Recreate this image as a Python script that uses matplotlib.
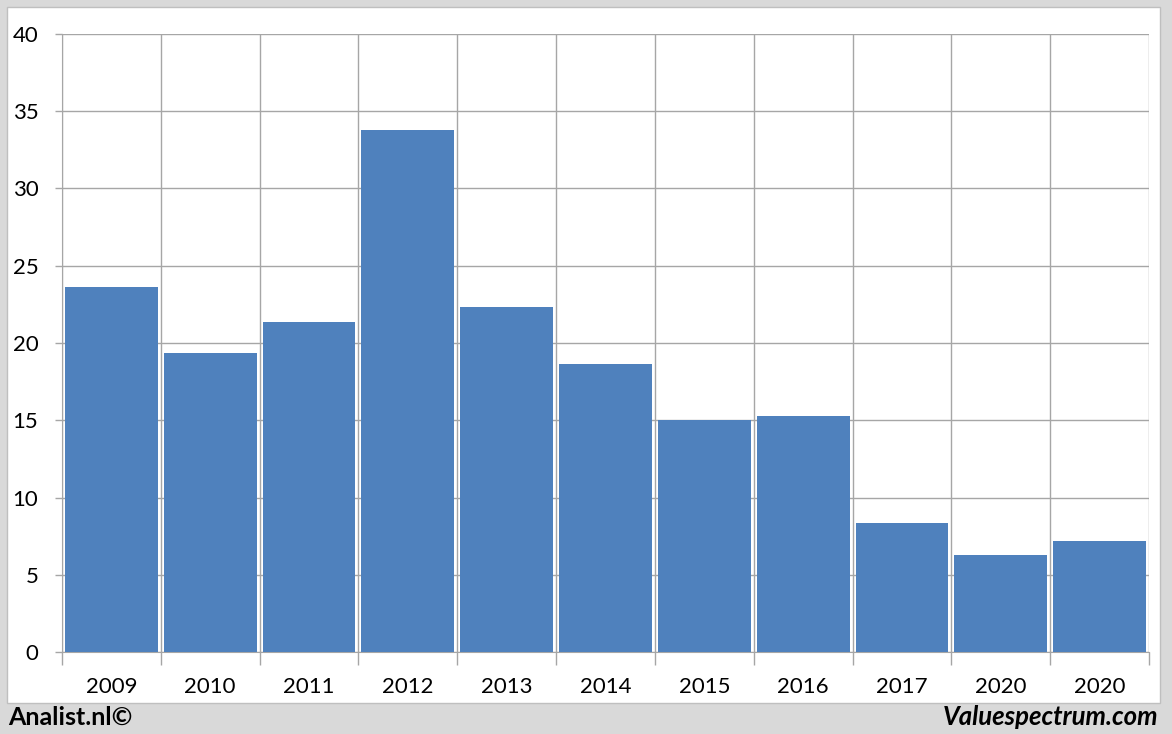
import numpy as np
import matplotlib.pyplot as plt
from matplotlib.patches import Rectangle

years = ["2009", "2010", "2011", "2012", "2013", "2014", "2015", "2016", "2017", "2020", "2020"]
values = [23.6, 19.35, 21.35, 33.8, 22.35, 18.65, 15.0, 15.3, 8.35, 6.3, 7.2]
y_ticks = [0, 5, 10, 15, 20, 25, 30, 35, 40]

plt.rcParams['font.family'] = ['Lato', 'DejaVu Sans']

fig = plt.figure(figsize=(11.72, 7.34), dpi=100)
fig.patch.set_facecolor('#d9d9d9')

# white panel behind the chart
fig.add_artist(Rectangle((7 / 1172, 31 / 734), 1153 / 1172, 696 / 734,
                         transform=fig.transFigure, facecolor='white',
                         edgecolor='#bfbfbf', linewidth=1, zorder=-5))

ax = fig.add_axes([62 / 1172, 82 / 734, 1087 / 1172, 618 / 734])
ax.set_facecolor('white')
x = np.arange(len(years))
ax.bar(x, values, width=0.94, color='#4f81bd', zorder=3)

ax.set_xlim(-0.5, len(years) - 0.5)
ax.set_ylim(0, 40)
ax.set_yticks(y_ticks)
ax.set_xticks(x)
ax.set_xticklabels(years)
ax.set_xticks(np.arange(-0.5, len(years)), minor=True)

ax.grid(axis='y', color='#a6a6a6', linewidth=1, zorder=1)
ax.grid(axis='x', which='minor', color='#a6a6a6', linewidth=1, zorder=1)
ax.tick_params(axis='x', which='major', length=0, labelsize=16, pad=18)
ax.tick_params(axis='x', which='minor', length=9, color='#a6a6a6', width=1)
ax.tick_params(axis='y', length=5, color='#a6a6a6', width=1, labelsize=16, pad=12)

for s in ['top', 'right']:
    ax.spines[s].set_visible(False)
for s in ['left', 'bottom']:
    ax.spines[s].set_color('#a6a6a6')

fig.text(8 / 1172, 17 / 734, "Analist.nl©", fontsize=18, fontweight='bold',
         ha='left', va='center')
fig.text(1158 / 1172, 17 / 734, "Valuespectrum.com", fontsize=18.5, fontweight='bold',
         style='italic', ha='right', va='center')

fig.savefig('out.png', dpi=100, facecolor=fig.get_facecolor())
